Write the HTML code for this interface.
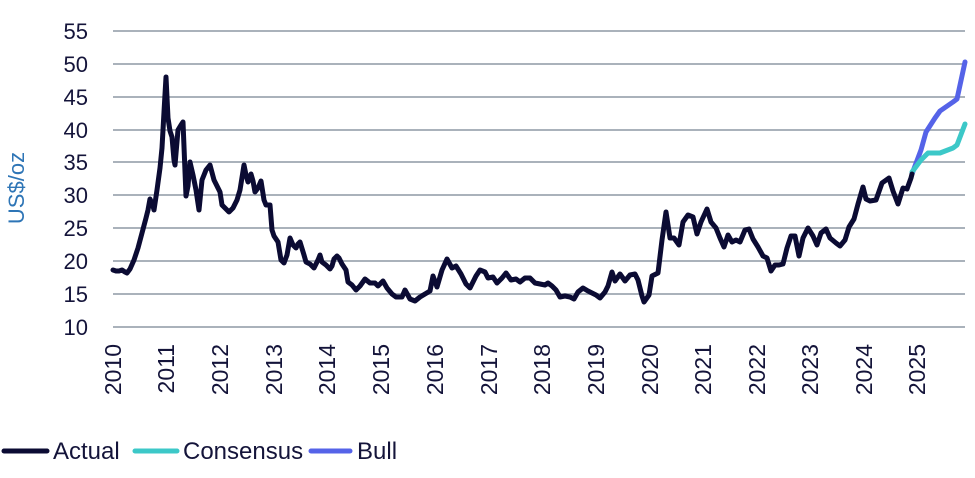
<!DOCTYPE html>
<html><head><meta charset="utf-8"><style>
html,body{margin:0;padding:0;background:#fff;}
svg{display:block;font-family:"Liberation Sans",sans-serif;}
</style></head><body>
<svg width="975" height="478" viewBox="0 0 975 478" xmlns="http://www.w3.org/2000/svg">
<g stroke="#aab2bb" stroke-width="2">
<line x1="113" x2="965" y1="31" y2="31"/><line x1="113" x2="965" y1="64" y2="64"/>
<line x1="113" x2="965" y1="97" y2="97"/><line x1="113" x2="965" y1="130" y2="130"/>
<line x1="113" x2="965" y1="162" y2="162"/><line x1="113" x2="965" y1="195" y2="195"/>
<line x1="113" x2="965" y1="228" y2="228"/><line x1="113" x2="965" y1="261" y2="261"/>
<line x1="113" x2="965" y1="294" y2="294"/><line x1="113" x2="965" y1="327" y2="327"/>
</g>
<g fill="#14143a" font-size="22" text-anchor="end">
<text x="88" y="39">55</text><text x="88" y="72">50</text><text x="88" y="105">45</text>
<text x="88" y="138">40</text><text x="88" y="170">35</text><text x="88" y="203">30</text>
<text x="88" y="236">25</text><text x="88" y="269">20</text><text x="88" y="302">15</text>
<text x="88" y="335">10</text>
</g>
<text transform="translate(24,188) rotate(-90)" fill="#2e75b6" font-size="22" text-anchor="middle">US$/oz</text>
<g fill="#14143a" font-size="23" text-anchor="end">
<text transform="translate(121,344) rotate(-90)">2010</text>
<text transform="translate(174,344) rotate(-90)">2011</text>
<text transform="translate(228,344) rotate(-90)">2012</text>
<text transform="translate(282,344) rotate(-90)">2013</text>
<text transform="translate(335,344) rotate(-90)">2014</text>
<text transform="translate(389,344) rotate(-90)">2015</text>
<text transform="translate(443,344) rotate(-90)">2016</text>
<text transform="translate(497,344) rotate(-90)">2017</text>
<text transform="translate(550,344) rotate(-90)">2018</text>
<text transform="translate(604,344) rotate(-90)">2019</text>
<text transform="translate(658,344) rotate(-90)">2020</text>
<text transform="translate(711,344) rotate(-90)">2021</text>
<text transform="translate(765,344) rotate(-90)">2022</text>
<text transform="translate(818,344) rotate(-90)">2023</text>
<text transform="translate(872,344) rotate(-90)">2024</text>
<text transform="translate(925,344) rotate(-90)">2025</text>
</g>
<g fill="none" stroke-width="5" stroke-linejoin="round" stroke-linecap="round">
<polyline stroke="#5563e8" points="912,174 921,150 926,132 935,118 940,111 953,102 957,99 965,62"/>
<polyline stroke="#3cc8c8" points="912,172 921,160 928,153 940,153 953,148 957,145 965,124"/>
<polyline stroke="#0b0b33" points="113,270 116,271 119,271 122,270 125,272 127,273 130,269 134,260 138,248 142,233 146,218 148,210 150,199 153,206 154,210 157,190 160,168 162,148 164,112 166,77 168,118 170,131 172,137 174,160 175,165 178,130 181,125 183,122 186,196 188,186 190,162 193,175 196,190 199,210 202,180 206,170 210,165 214,180 217,186 220,192 222,205 226,209 229,212 233,208 237,200 240,190 244,165 246,175 248,182 251,174 253,181 255,192 258,188 261,181 264,200 266,205 270,205 272,230 274,236 278,242 281,260 284,263 287,255 290,238 293,245 296,248 298,244 300,242 304,255 306,262 310,264 312,266 314,268 318,260 320,255 322,262 326,265 330,269 332,266 334,259 337,256 339,258 342,264 346,270 348,282 352,285 356,290 360,286 365,279 370,283 375,283 378,286 383,281 387,288 392,294 396,297 402,297 405,290 410,299 415,301 420,297 425,294 430,291 433,276 437,287 442,270 447,259 452,268 456,266 461,274 466,284 470,288 476,276 480,270 485,272 488,278 493,277 497,283 502,278 506,273 511,280 516,279 520,282 525,278 530,278 535,283 540,284 545,285 548,283 552,286 556,290 560,297 565,296 570,297 574,299 578,292 583,288 588,291 592,293 596,295 600,298 605,292 608,286 612,272 615,281 620,274 625,281 630,275 635,274 638,280 642,296 644,302 649,295 652,276 658,273 662,240 666,212 670,238 674,238 679,245 683,222 688,215 693,217 697,234 701,222 707,209 711,222 716,228 720,238 724,247 728,235 732,242 736,240 740,242 745,230 749,229 753,239 758,247 763,256 767,258 771,271 775,265 779,265 783,264 787,248 791,236 795,236 799,256 803,238 808,228 813,236 817,245 821,233 826,229 830,238 836,243 840,246 845,240 849,227 854,219 858,204 863,187 866,199 870,201 876,200 882,183 889,178 893,191 898,204 903,188 907,189 911,178 912,174"/>
</g>
<g stroke-width="5" stroke-linecap="round">
<line x1="4" x2="47" y1="451" y2="451" stroke="#0b0b33"/>
<line x1="135" x2="177" y1="451" y2="451" stroke="#3cc8c8"/>
<line x1="311" x2="350" y1="451" y2="451" stroke="#5563e8"/>
</g>
<g fill="#14143a" font-size="24">
<text x="53" y="459">Actual</text>
<text x="183" y="459">Consensus</text>
<text x="357" y="459">Bull</text>
</g>
</svg>
</body></html>
